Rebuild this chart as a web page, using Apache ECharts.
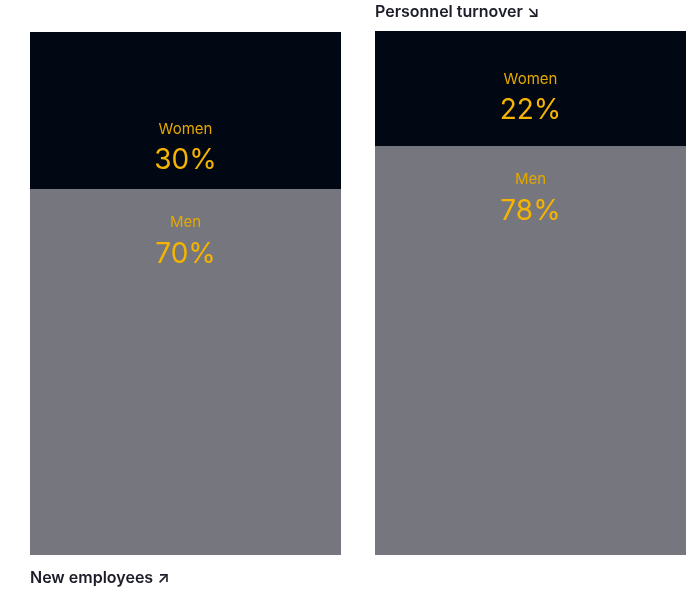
<!DOCTYPE html>
<html><head><meta charset="utf-8">
<script src="https://cdn.jsdelivr.net/npm/echarts@6/dist/echarts.min.js"></script>
<style>html,body{margin:0;padding:0;background:#fff}#c{width:696px;height:591px}</style>
</head><body><div id="c"></div>
<script>
const categories = ['New employees', 'Personnel turnover'];
const women = [30, 22];
const men = [70, 78];
const titleTexts = ['New employees ↗', 'Personnel turnover ↘'];

const chart = echarts.init(document.getElementById('c'), null, {renderer: 'canvas'});
const rich = {
  a: {fontFamily: 'Inter', fontSize: 15, color: '#e5a800', lineHeight: 22, align: 'center'},
  b: {fontFamily: 'Inter', fontSize: 28, color: '#f5b400', lineHeight: 42, align: 'center'}
};
const womenOffsets = [86, 37];
const menOffsets = [23, 22];
const gridLefts = [30, 375];
const gridTops = [32, 31];
function lbl(name, v, off) {
  return {show: true, position: ['50%', off], align: 'center', verticalAlign: 'top',
    formatter: '{a|' + name + '}\n{b|' + v + '%}', rich: rich};
}
const tStyle = {fontFamily: 'Inter', fontSize: 16, fontWeight: 600, color: '#1c1d28'};
const grids = [], xAxes = [], yAxes = [], series = [];
categories.forEach((c, i) => {
  grids.push({left: gridLefts[i], width: 311, top: gridTops[i], bottom: 36});
  xAxes.push({type: 'category', gridIndex: i, data: [c], show: false});
  yAxes.push({type: 'value', gridIndex: i, min: 0, max: 100, show: false});
  series.push({type: 'bar', stack: 's' + i, xAxisIndex: i, yAxisIndex: i, barWidth: '100%',
    itemStyle: {color: '#76777e'}, data: [{value: men[i], label: lbl('Men', men[i], menOffsets[i])}]});
  series.push({type: 'bar', stack: 's' + i, xAxisIndex: i, yAxisIndex: i, barWidth: '100%',
    itemStyle: {color: '#010713'}, data: [{value: women[i], label: lbl('Women', women[i], womenOffsets[i])}]});
});
chart.setOption({
  animation: false,
  title: [
    {text: titleTexts[0], left: 30, top: 570, padding: 0, textStyle: tStyle},
    {text: titleTexts[1], left: 375, top: 4, padding: 0, textStyle: tStyle}
  ],
  grid: grids, xAxis: xAxes, yAxis: yAxes, series: series
});
</script></body></html>
